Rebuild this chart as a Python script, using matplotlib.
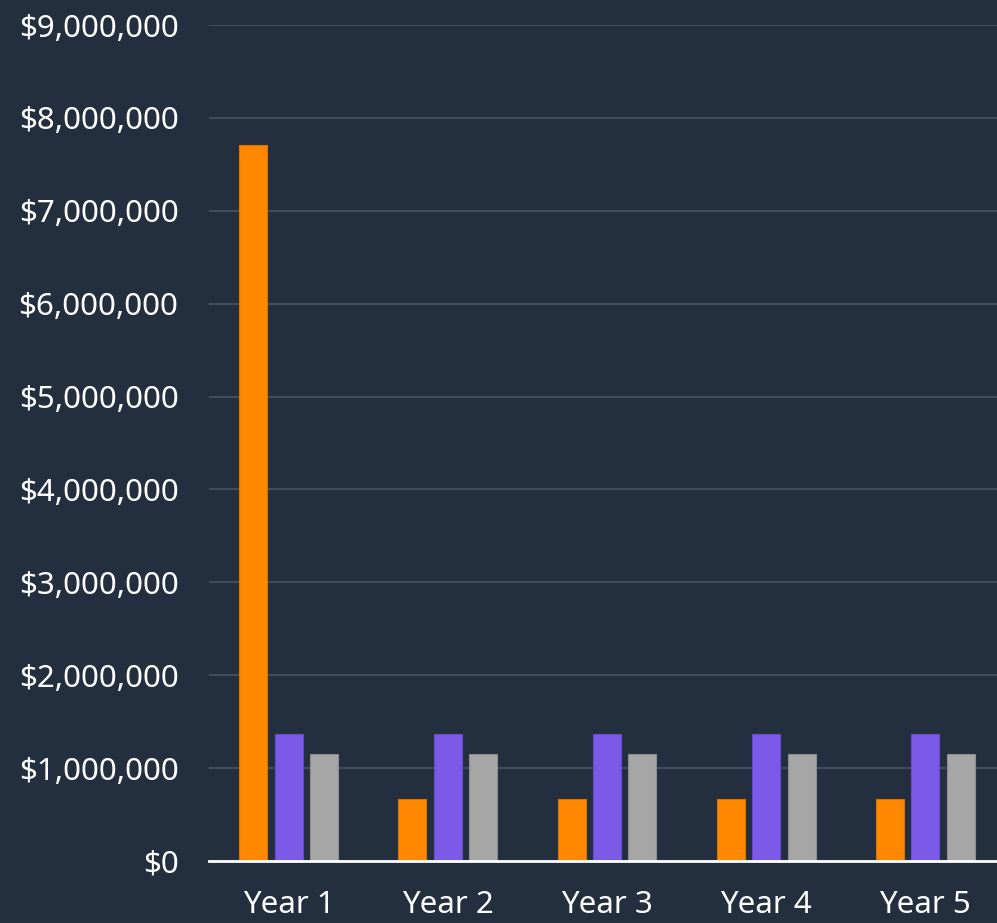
import numpy as np
import matplotlib.pyplot as plt
from matplotlib.ticker import FuncFormatter

years = ['Year 1', 'Year 2', 'Year 3', 'Year 4', 'Year 5']
series_a = [7710000, 667000, 667000, 667000, 667000]
series_b = [1367000, 1367000, 1367000, 1367000, 1367000]
series_c = [1152000, 1152000, 1152000, 1152000, 1152000]
colors = ['#ff8800', '#7b5ae8', '#a6a6a6']
edges = ['#d97400', '#6a4ad0', '#8e8e8e']

bg = '#232f3e'
plt.rcParams['font.family'] = ['Noto Sans', 'DejaVu Sans']

fig = plt.figure(figsize=(9.97, 9.23), dpi=100, facecolor=bg)
ax = fig.add_axes([209 / 997, 62 / 923, 1 - 209 / 997, 836 / 923])
ax.set_facecolor(bg)

x = np.arange(len(years))
w = 0.176
step = 0.222
for i, vals in enumerate([series_a, series_b, series_c]):
    ax.bar(x + (i - 1) * step, vals, width=w, color=colors[i],
           edgecolor=edges[i], linewidth=0.8, zorder=3)

ax.set_ylim(0, 9000000)
ax.set_xlim(-0.5, 4.45)
ax.set_yticks(np.arange(0, 9000001, 1000000))
ax.yaxis.set_major_formatter(FuncFormatter(lambda v, p: '${:,.0f}'.format(v)))
ax.set_xticks(x)
ax.set_xticklabels(years)
ax.grid(axis='y', color='#414d5c', linewidth=1.5, zorder=0)
ax.tick_params(axis='both', length=0, labelsize=22.5, colors='white')
ax.tick_params(axis='y', pad=22)
ax.tick_params(axis='x', pad=21)
for s in ['top', 'right', 'left']:
    ax.spines[s].set_visible(False)
ax.spines['bottom'].set_color('white')
ax.spines['bottom'].set_linewidth(2)
ax.spines['bottom'].set_zorder(4)

fig.savefig('out.png', dpi=100, facecolor=bg)
